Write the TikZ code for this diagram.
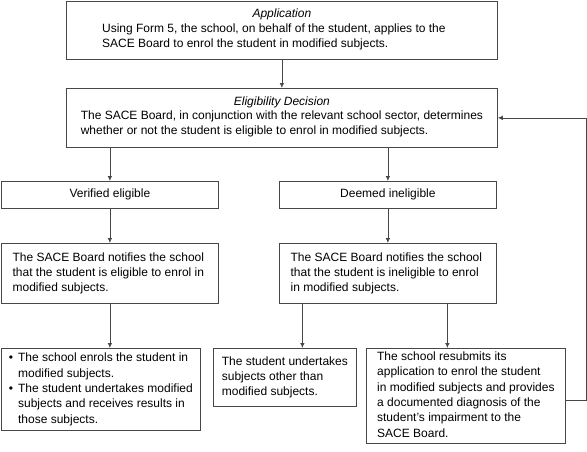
\documentclass[tikz,border=0pt]{standalone}
\usepackage{fontspec}
\setmainfont{Liberation Sans}
\usetikzlibrary{arrows.meta,calc}
\begin{document}
\begin{tikzpicture}[x=1pt,y=-1pt,
  box/.style={draw=black!72, line width=0.75pt, anchor=north west, inner sep=0pt,
    align=center, font=\fontsize{12}{15.3}\selectfont},
  arr/.style={draw=black!72, line width=0.75pt, -{Latex[length=5pt,width=4.5pt]}}]
\useasboundingbox (0,0) rectangle (587,451);
\renewcommand{\arraystretch}{1}
\node[box, minimum width=431pt, minimum height=58pt] (app) at (66,1)
  {{\itshape Application}\\[1pt]
   \hspace*{-16pt}\begin{tabular}{@{}l@{}}Using Form 5, the school, on behalf of the student, applies to the\\
   SACE Board to enrol the student in modified subjects.\end{tabular}};
\node[box, minimum width=431pt, minimum height=59pt] (elig) at (66,88)
  {{\itshape Eligibility Decision}\\
   \begin{tabular}{@{}l@{}}The SACE Board, in conjunction with the relevant school sector, determines\\
   whether or not the student is eligible to enrol in modified subjects.\end{tabular}};
\node[box, minimum width=217pt, minimum height=27pt] (ver) at (1,181) {Verified eligible};
\node[box, minimum width=217pt, minimum height=27pt] (dee) at (279,181) {Deemed ineligible};
\node[box, minimum width=217pt, minimum height=60pt] (n1) at (1,243)
  {\hspace*{-3pt}\begin{tabular}{@{}l@{}}The SACE Board notifies the school\\
   that the student is eligible to enrol in\\ modified subjects.\end{tabular}};
\node[box, minimum width=217pt, minimum height=60pt] (n2) at (279,243)
  {\hspace*{-3pt}\begin{tabular}{@{}l@{}}The SACE Board notifies the school\\
   that the student is ineligible to enrol\\ in modified subjects.\end{tabular}};
\node[box, minimum width=199pt, minimum height=82pt] (b1) at (1,348)
  {\begin{tabular}{@{}l@{\hspace{5pt}}l@{}}\textbullet & The school enrols the student in\\
   & modified subjects.\\
   \textbullet & The student undertakes modified\\
   & subjects and receives results in\\
   & those subjects.\end{tabular}};
\node[box, minimum width=143pt, minimum height=58pt] (b2) at (213,348)
  {\begin{tabular}{@{}l@{}}The student undertakes\\ subjects other than\\ modified subjects.\end{tabular}};
\node[box, minimum width=199pt, minimum height=95pt] (b3) at (366,348)
  {\begin{tabular}{@{}l@{}}The school resubmits its\\ application to enrol the student\\
   in modified subjects and provides\\ a documented diagnosis of the\\
   student’s impairment to the\\ SACE Board.\end{tabular}};
\draw[arr] (app.south) -- (elig.north);
\draw[arr] (ver.north |- elig.south) -- (ver.north);
\draw[arr] (dee.north |- elig.south) -- (dee.north);
\draw[arr] (ver.south) -- (n1.north);
\draw[arr] (dee.south) -- (n2.north);
\draw[arr] (n1.south) -- (n1.south |- b1.north);
\draw[arr] ([xshift=-85.5pt]n2.south) -- ([xshift=-85.5pt]n2.south |- b2.north);
\draw[arr] ([xshift=59.5pt]n2.south) -- ([xshift=59.5pt]n2.south |- b3.north);
\coordinate (fb) at (586,400);
\draw[arr] (b3.east |- fb) -- (fb) |- (elig.east);
\end{tikzpicture}
\end{document}
